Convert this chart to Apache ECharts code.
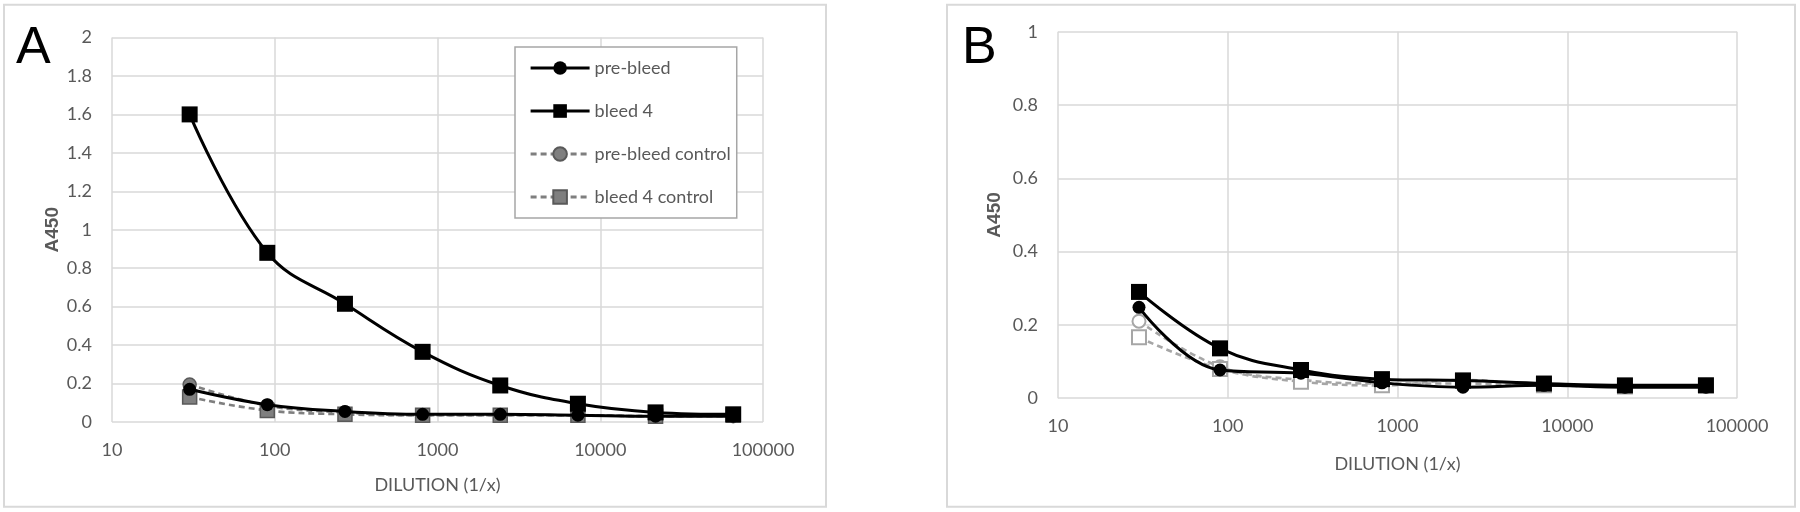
<!DOCTYPE html>
<html><head><meta charset="utf-8">
<script src="https://cdn.jsdelivr.net/npm/echarts@6/dist/echarts.min.js"></script>
<style>html,body{margin:0;padding:0;background:#fff}#c{width:1800px;height:512px}</style>
</head><body><div id="c"></div>
<script>
// ---- data ----
const dilutions = [30, 90, 270, 810, 2430, 7290, 21870, 65610];
const seriesNames = ['pre-bleed', 'bleed 4', 'pre-bleed control', 'bleed 4 control'];
const panelLabels = ['A', 'B'];
const xTitle = 'DILUTION (1/x)';
const yTitle = 'A450';
// Panel A
const aPreBleed        = [0.17, 0.09, 0.055, 0.04, 0.04, 0.035, 0.03, 0.03];
const aBleed4          = [1.60, 0.88, 0.615, 0.365, 0.19, 0.095, 0.05, 0.04];
const aPreBleedControl = [0.195, 0.085, 0.05, 0.035, 0.035, 0.035, 0.03, 0.03];
const aBleed4Control   = [0.13, 0.06, 0.04, 0.035, 0.035, 0.035, 0.03, 0.035];
// Panel B
const bPreBleed        = [0.248, 0.077, 0.068, 0.042, 0.03, 0.035, 0.03, 0.03];
const bBleed4          = [0.29, 0.136, 0.077, 0.052, 0.048, 0.04, 0.035, 0.035];
const bPreBleedControl = [0.21, 0.086, 0.05, 0.04, 0.04, 0.035, 0.032, 0.035];
const bBleed4Control   = [0.166, 0.08, 0.045, 0.035, 0.05, 0.035, 0.032, 0.035];
const aYMax = 2, aYStep = 0.2;
const bYMax = 1, bYStep = 0.2;

const pts = arr => arr.map((v, i) => [dilutions[i], v]);
const FONT = 'Lato, "Open Sans", sans-serif';
const GRAY_TXT = '#595959';
const GRID_C = '#d9d9d9';

function xAxisFor(gi, nameGap) {
  return {
    gridIndex: gi, type: 'log', logBase: 10, min: 10, max: 100000,
    name: xTitle, nameLocation: 'middle', nameGap: nameGap,
    nameTextStyle: { color: GRAY_TXT, fontSize: 18, fontFamily: FONT },
    axisLine: { show: false }, axisTick: { show: false },
    axisLabel: { color: GRAY_TXT, fontSize: 18, fontFamily: FONT, margin: 19,
      formatter: v => String(Math.round(v)) },
    splitLine: { show: true, lineStyle: { color: GRID_C, width: 1.5 } },
    minorSplitLine: { show: false }
  };
}
function yAxisFor(gi, max, step, nameGap) {
  return {
    gridIndex: gi, type: 'value', min: 0, max: max, interval: step,
    name: yTitle, nameLocation: 'middle', nameGap: nameGap, nameRotate: 90,
    nameTextStyle: { color: GRAY_TXT, fontSize: 19, fontFamily: '"Liberation Sans", Arial, sans-serif', fontWeight: 'bold' },
    axisLine: { show: false }, axisTick: { show: false },
    axisLabel: { color: GRAY_TXT, fontSize: 18, fontFamily: FONT, margin: 20 },
    splitLine: { show: true, lineStyle: { color: GRID_C, width: 1.5 } }
  };
}

function makeSeries(gi, data, kind, light) {
  const base = { type: 'line', xAxisIndex: gi, yAxisIndex: gi, smooth: 0.4, data: pts(data), z: 3 };
  if (kind === 0) return Object.assign(base, { name: seriesNames[0], symbol: 'circle', symbolSize: 13,
    lineStyle: { color: '#000', width: 3 }, itemStyle: { color: '#000' }, z: 4 });
  if (kind === 1) return Object.assign(base, { name: seriesNames[1], symbol: 'rect', symbolSize: 16,
    lineStyle: { color: '#000', width: 3 }, itemStyle: { color: '#000' }, z: 4 });
  const lc = light ? '#a6a6a6' : '#7f7f7f';
  const item = light ? { color: '#fff', borderColor: lc, borderWidth: 2 } : { color: '#7f7f7f', borderColor: '#595959', borderWidth: 1.5 };
  return Object.assign(base, { name: seriesNames[kind], symbol: kind === 2 ? 'circle' : 'rect', symbolSize: kind === 2 ? 13 : 14,
    lineStyle: { color: lc, width: 2.6, type: [6, 4] }, itemStyle: item });
}

const chart = echarts.init(document.getElementById('c'), null, { renderer: 'canvas' });
chart.setOption({
  animation: false,
  backgroundColor: '#fff',
  grid: [
    { left: 112, top: 37.5, width: 651, height: 384.5, show: false },
    { left: 1058, top: 31.7, width: 679, height: 366.5, show: false }
  ],
  xAxis: [xAxisFor(0, 54), xAxisFor(1, 57)],
  yAxis: [yAxisFor(0, aYMax, aYStep, 50), yAxisFor(1, bYMax, bYStep, 54)],
  legend: {
    orient: 'vertical', left: 515, top: 47,
    data: seriesNames.map((n, i) => ({ name: n, lineStyle: { width: 3.2 } })),
    itemWidth: 59, itemHeight: 17, itemGap: 25,
    padding: [12, 6, 12, 14],
    lineStyle: { width: 3.2 },
    backgroundColor: '#fff', borderColor: '#a6a6a6', borderWidth: 1.5,
    textStyle: { color: GRAY_TXT, fontSize: 18, fontFamily: FONT },
    z: 10
  },
  graphic: [
    { type: 'rect', shape: { x: 4, y: 4.7, width: 822, height: 502 }, style: { fill: 'none', stroke: GRID_C, lineWidth: 2 }, z: -1 },
    { type: 'rect', shape: { x: 947, y: 4.7, width: 848, height: 502 }, style: { fill: 'none', stroke: GRID_C, lineWidth: 2 }, z: -1 },
    { type: 'text', x: 16, y: 49, style: { text: panelLabels[0], fontSize: 52, fontFamily: '"Liberation Sans", Arial, sans-serif', fill: '#000', verticalAlign: 'middle' } },
    { type: 'text', x: 962, y: 48.5, style: { text: panelLabels[1], fontSize: 52, fontFamily: '"Liberation Sans", Arial, sans-serif', fill: '#000', verticalAlign: 'middle' } }
  ],
  series: [
    makeSeries(0, aPreBleedControl, 2, false),
    makeSeries(0, aBleed4Control, 3, false),
    makeSeries(0, aPreBleed, 0),
    makeSeries(0, aBleed4, 1),
    makeSeries(1, bPreBleedControl, 2, true),
    makeSeries(1, bBleed4Control, 3, true),
    makeSeries(1, bPreBleed, 0),
    makeSeries(1, bBleed4, 1)
  ]
});
</script></body></html>
